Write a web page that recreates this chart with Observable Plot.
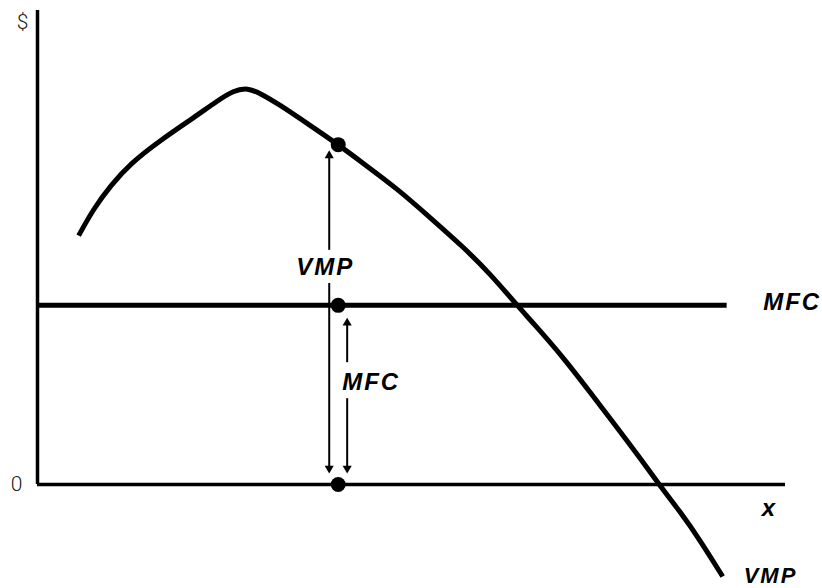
<!DOCTYPE html>
<html>
<head>
<meta charset="utf-8">
<script src="https://cdn.jsdelivr.net/npm/d3@7"></script>
<script src="https://cdn.jsdelivr.net/npm/@observablehq/plot@0.6"></script>
<style>
  html, body { margin: 0; padding: 0; background: #fff; }
  #chart svg { display: block; }
</style>
</head>
<body>
<div id="chart"></div>
<script>
// VMP curve (quantity x, value in $)
const vmpX = [5.5, 7.5, 9.8, 12.4, 16.4, 20.9, 24.1, 26.2, 28.1, 29.8, 32.1, 36.5, 40.2, 43.6, 48.1, 52.5, 57.0, 60.6, 63.9, 66.3, 70.3, 73.9, 77.5, 80.6, 83.0, 86.0, 88.6, 91.6];
const vmpY = [52.5, 58.2, 63.1, 67.7, 72.6, 77.4, 81.0, 83.1, 83.7, 82.5, 80.4, 75.7, 71.7, 67.7, 62.4, 56.3, 50.0, 44.3, 38.2, 34.0, 26.8, 19.4, 12.0, 5.5, 0.2, -5.9, -11.8, -19.4];

// MFC horizontal line
const mfcLevel = 37.8;
const mfcStart = 0;
const mfcEnd = 92.2;

// Highlighted points at the chosen quantity
const pointX = 40.2;
const pointY = [71.7, 37.8, 0];

// Double-arrow segments (VMP arrow, MFC arrow), split around labels
const vmpArrowX = 39.0;
const vmpArrowTop = [70.5, 49.4];   // upper segment: tip -> label gap
const vmpArrowBottom = [42.4, 2.3]; // lower segment: label gap -> tip
const mfcArrowX = 41.4;
const mfcArrowTop = [35.2, 25.7];
const mfcArrowBottom = [18.1, 2.3];

// Axes extents
const axisXMax = 100;
const axisYMax = 100;

const labels = ["$", "0", "x", "MFC", "VMP"];

const upSegs = [
  {x: vmpArrowX, y1: vmpArrowTop[0], y2: vmpArrowTop[1]},
  {x: mfcArrowX, y1: mfcArrowTop[0], y2: mfcArrowTop[1]}
];
const downSegs = [
  {x: vmpArrowX, y1: vmpArrowBottom[0], y2: vmpArrowBottom[1]},
  {x: mfcArrowX, y1: mfcArrowBottom[0], y2: mfcArrowBottom[1]}
];
const upTips = upSegs.map(d => ({x: d.x, y: d.y1}));
const downTips = downSegs.map(d => ({x: d.x, y: d.y2}));

const vmp = vmpX.map((x, i) => ({x, y: vmpY[i]}));
const bold = {fontWeight: "bold", fontStyle: "italic", fontFamily: "Liberation Sans, Arial, sans-serif", fontSize: 24, fill: "black"};
const light = {fontWeight: 300, fontFamily: "Roboto, Lato, sans-serif", fontSize: 21, fill: "#222"};

const chart = Plot.plot({
  width: 822,
  height: 588,
  marginLeft: 37,
  marginRight: 37,
  marginTop: 10,
  marginBottom: 104,
  x: {domain: [0, axisXMax], axis: null},
  y: {domain: [0, axisYMax], axis: null},
  style: {background: "white"},
  marks: [
    // axes
    Plot.ruleX([0], {y1: 0, y2: axisYMax, stroke: "black", strokeWidth: 3.5}),
    Plot.ruleY([0], {x1: 0, x2: axisXMax, stroke: "black", strokeWidth: 3.5}),
    // MFC line
    Plot.ruleY([mfcLevel], {x1: mfcStart, x2: mfcEnd, stroke: "black", strokeWidth: 5}),
    // VMP curve
    Plot.line(vmp, {x: "x", y: "y", curve: "basis", stroke: "black", strokeWidth: 5, strokeLinecap: "butt"}),
    // arrows
    Plot.ruleX(upSegs, {x: "x", y1: "y1", y2: "y2", stroke: "black", strokeWidth: 2, insetTop: 5}),
    Plot.ruleX(downSegs, {x: "x", y1: "y1", y2: "y2", stroke: "black", strokeWidth: 2, insetBottom: 5}),
    Plot.dot(upTips, {x: "x", y: "y", symbol: "triangle", r: 3.4, fill: "black", stroke: "none", dy: 5.3}),
    Plot.dot(downTips, {x: "x", y: "y", symbol: "triangle", r: 3.4, fill: "black", stroke: "none", rotate: 180, dy: -5.3}),
    // points
    Plot.dot(pointY.map(y => ({x: pointX, y})), {x: "x", y: "y", r: 7.5, fill: "black", stroke: "none"}),
    // axis labels
    Plot.text([{x: 0, y: axisYMax}], {x: "x", y: "y", text: () => labels[0], dx: -15, dy: 12, ...light}),
    Plot.text([{x: 0, y: 0}], {x: "x", y: "y", text: () => labels[1], dx: -21, dy: 0, ...light}),
    Plot.text([{x: axisXMax, y: 0}], {x: "x", y: "y", text: () => labels[2], dx: -17, dy: 24, ...bold}),
    // curve labels
    Plot.text([{x: mfcEnd, y: mfcLevel}], {x: "x", y: "y", text: () => labels[3], textAnchor: "start", dx: 36, dy: -3, className: "lbl", ...bold}),
    Plot.text([vmp[vmp.length - 1]], {x: "x", y: "y", text: () => labels[4], textAnchor: "start", dx: 21, dy: -1, className: "lbl", ...bold, fontSize: 22}),
    // arrow labels
    Plot.text([{x: vmpArrowX, y: (vmpArrowTop[1] + vmpArrowBottom[0]) / 2}], {x: "x", y: "y", text: () => labels[4], dx: -4, dy: 0, className: "lbl", ...bold}),
    Plot.text([{x: mfcArrowX, y: (mfcArrowTop[1] + mfcArrowBottom[0]) / 2}], {x: "x", y: "y", text: () => labels[3], dx: 24, dy: 2, className: "lbl", ...bold})
  ]
});
// apply letter-spacing to labelled text groups
chart.querySelectorAll("g.lbl text, text.lbl").forEach(t => t.style.letterSpacing = "2px");
document.getElementById("chart").append(chart);
</script>
</body>
</html>
